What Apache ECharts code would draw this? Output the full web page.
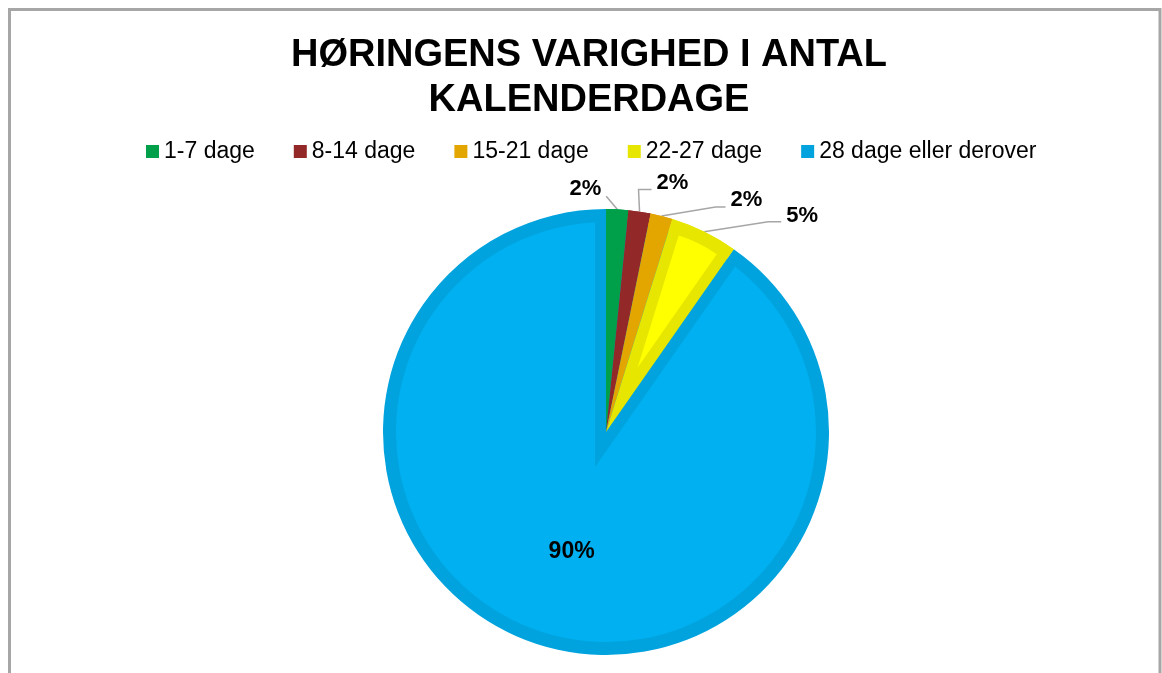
<!DOCTYPE html>
<html>
<head>
<meta charset="utf-8">
<script src="https://cdn.jsdelivr.net/npm/echarts@6/dist/echarts.min.js"></script>
<style>
  html, body { margin: 0; padding: 0; background: #fff; }
  #main { width: 1162px; height: 673px; }
</style>
</head>
<body>
<div id="main"></div>
<script>
// andel af høringer (%)
const categories = ["1-7 dage", "8-14 dage", "15-21 dage", "22-27 dage", "28 dage eller derover"];
const shares = [1.6, 1.6, 1.6, 4.9, 90.2];
const fillColors = ["#00a650", "#982a2a", "#eaab00", "#ffff00", "#00b0f0"];
const edgeColors = ["#00a04b", "#932828", "#e3a600", "#e6e600", "#00a3dd"];

const CX = 606, CY = 432, R = 223;
const ARC = 13, SIDE = 11;   // Excel-lignende indre kant
const NONE = "rgba(0,0,0,0)";
const total = shares.reduce((a, b) => a + b, 0);

// hjælp: forskyd centrum langs en vinkel (grader med uret fra kl. 12)
function shift(angleDeg, dist) {
  const a = angleDeg * Math.PI / 180;
  return [CX + Math.sin(a) * dist, CY - Math.cos(a) * dist];
}

// de små skiver samlet (til den mørke kant på den blå skive)
const smallSpan = (total - shares[4]) / total * 360;
const smallOff = SIDE / Math.sin(smallSpan / 2 * Math.PI / 180);
// gul skive (kun den er bred nok til at vise et lysere indre)
const yStart = (shares[0] + shares[1] + shares[2]) / total * 360;
const ySpan = shares[3] / total * 360;
const yOff = SIDE / Math.sin(ySpan / 2 * Math.PI / 180);

const chart = echarts.init(document.getElementById("main"));

const basePie = {
  type: "pie",
  startAngle: 90,
  clockwise: true,
  silent: true,
  label: { show: false },
  labelLine: { show: false },
  emphasis: { disabled: true }
};

// labelknæk relativt til punktet på kanten
const bends = [
  { e: [-11, -13], k: [-11, -13], t: [-5, -7], align: "right" },
  { e: [-1, -22], k: [12, -22], t: [5, -7], align: "left" },
  { e: [54, -9], k: [64, -9], t: [5, -7], align: "left" },
  { e: [64, -10], k: [77, -10], t: [5, -6], align: "left" }
];

let option = {
  backgroundColor: "#fff",
  animation: false,
  title: {
    text: "HØRINGENS VARIGHED I ANTAL\nKALENDERDAGE",
    left: 584,
    top: 28,
    textAlign: "center",
    textStyle: {
      fontFamily: "Liberation Sans",
      fontSize: 38,
      fontWeight: "bold",
      color: "#000",
      lineHeight: 45
    }
  },
  legend: {
    top: 140,
    left: 146,
    padding: 0,
    icon: "rect",
    itemWidth: 13,
    itemHeight: 13,
    itemGap: 39,
    selectedMode: false,
    textStyle: {
      fontFamily: "Liberation Sans",
      fontSize: 23,
      color: "#000"
    },
    data: categories.map((c, i) => ({ name: c, itemStyle: { color: edgeColors[i], borderWidth: 0 } }))
  },
  graphic: [{
    type: "rect",
    shape: { x: 9.5, y: 9.5, width: 1150.5, height: 720 },
    style: { fill: "none", stroke: "#a6a6a6", lineWidth: 3 },
    silent: true
  }],
  series: [
    // 1: hele lagkagen i kantfarver, med labels
    Object.assign({}, basePie, {
      center: [CX, CY],
      radius: R,
      avoidLabelOverlap: false,
      label: {
        show: true,
        position: "outside",
        formatter: p => Math.round(p.value) + "%",
        fontFamily: "Liberation Sans",
        fontSize: 22,
        fontWeight: "bold",
        color: "#000"
      },
      labelLine: {
        show: true,
        length: 10,
        length2: 10,
        lineStyle: { color: "#a6a6a6", width: 1.5 }
      },
      labelLayout: function (params) {
        const i = params.dataIndex;
        if (i === 4) return { dy: 10 };
        const p = params.labelLinePoints;
        if (!p) return {};
        const b = bends[i];
        const p0 = p[0];
        const p1 = [p0[0] + b.e[0], p0[1] + b.e[1]];
        const p2 = [p0[0] + b.k[0], p0[1] + b.k[1]];
        return {
          x: p2[0] + b.t[0],
          y: p2[1] + b.t[1],
          align: b.align,
          verticalAlign: "middle",
          labelLinePoints: [p0, p1, p2]
        };
      },
      data: categories.map((c, i) => {
        let d = { name: c, value: shares[i], itemStyle: { color: edgeColors[i] } };
        if (i === 4) {
          d.label = { position: "inside", fontSize: 23 };
          d.labelLine = { show: false };
        }
        return d;
      })
    }),
    // 2: lys blå inderside
    Object.assign({}, basePie, {
      center: [CX, CY],
      radius: R - ARC,
      data: shares.map((v, i) => ({ name: "b" + i, value: v, itemStyle: { color: i === 4 ? fillColors[4] : NONE } }))
    }),
    // 3: mørk blå kant langs de små skiver
    Object.assign({}, basePie, {
      center: shift(smallSpan / 2, -smallOff),
      radius: R - ARC + smallOff,
      data: [
        { name: "k0", value: total - shares[4], itemStyle: { color: edgeColors[4] } },
        { name: "k1", value: shares[4], itemStyle: { color: NONE } }
      ]
    }),
    // 4: de små skiver igen, præcist
    Object.assign({}, basePie, {
      center: [CX, CY],
      radius: R,
      data: shares.map((v, i) => ({ name: "s" + i, value: v, itemStyle: { color: i < 4 ? edgeColors[i] : NONE } }))
    }),
    // 5: lys gul inderside
    Object.assign({}, basePie, {
      center: shift(yStart + ySpan / 2, yOff),
      radius: R - ARC - yOff,
      data: shares.map((v, i) => ({ name: "y" + i, value: v, itemStyle: { color: i === 3 ? fillColors[3] : NONE } }))
    })
  ]
};

chart.setOption(option);
</script>
</body>
</html>
